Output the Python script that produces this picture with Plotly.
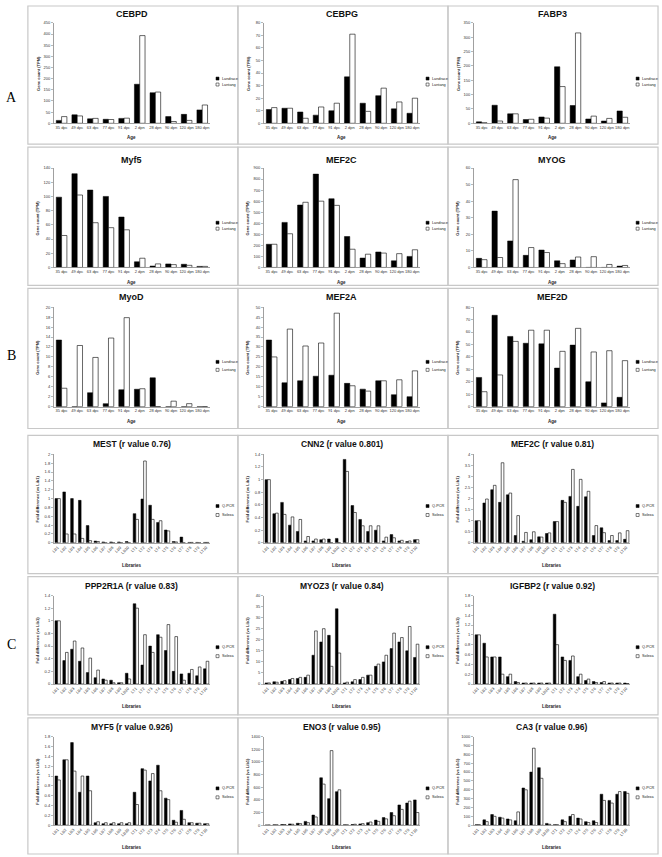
import plotly.graph_objects as go

W, H = 662, 857

ages = ["35 dpc", "49 dpc", "63 dpc", "77 dpc", "91 dpc", "2 dpn", "28 dpn", "90 dpn", "120 dpn", "180 dpn"]
libs = ["LB1", "LB2", "LB3", "LB4", "LB5", "LB6", "LB7", "LB8", "LB9", "LB10",
        "LT1", "LT2", "LT3", "LT4", "LT5", "LT6", "LT7", "LT8", "LT9", "LT10"]

# Row A / B : Gene count (TPM)
cebpd_landrace = [13, 38, 20, 18, 22, 175, 137, 30, 40, 60]
cebpd_lantang = [30, 33, 22, 17, 23, 393, 140, 8, 13, 82]
cebpg_landrace = [11, 12, 9, 6.5, 10, 37, 16, 22, 11.5, 8]
cebpg_lantang = [12.5, 12, 4, 13, 16, 71, 9.5, 28, 17, 20]
fabp3_landrace = [5, 63, 33, 13, 22, 197, 62, 15, 8, 43]
fabp3_lantang = [2, 8, 33, 14, 18, 128, 315, 25, 17, 21]
myf5_landrace = [99, 132, 109, 100, 71, 8, 2, 5, 4.5, 1.5]
myf5_lantang = [45, 102, 63, 56, 53, 13, 5, 4, 3, 1.5]
mef2c_landrace = [210, 408, 565, 845, 622, 280, 85, 140, 60, 100]
mef2c_lantang = [210, 305, 590, 600, 562, 165, 120, 130, 125, 160]
myog_landrace = [5.5, 34, 16, 7.3, 10.5, 4, 4.5, 0, 0, 0.8]
myog_lantang = [4.7, 6, 53, 12, 9, 2.3, 6.3, 6.5, 1.8, 1.2]
myod_landrace = [13.4, 0, 2.8, 0.6, 3.4, 3.5, 5.8, 0, 0, 0]
myod_lantang = [3.7, 12.3, 9.9, 13.8, 17.9, 3.6, 0, 1.1, 0.6, 0]
mef2a_landrace = [33.5, 12, 13, 15.3, 15.8, 11.7, 8.8, 13, 6, 5]
mef2a_lantang = [25, 39, 30.5, 32, 47, 10.5, 7.8, 13, 13.5, 18]
mef2d_landrace = [23.5, 73.5, 56.5, 51, 50.5, 31, 49.5, 20, 3, 7.5]
mef2d_lantang = [12, 25.5, 52.5, 61.5, 61.5, 44.5, 63, 44, 45, 37]

# Row C : fold difference
mest_qpcr = [1.0, 1.15, 1.0, 0.96, 0.39, 0.04, 0.02, 0.02, 0.02, 0.03, 0.66, 0.99, 0.85, 0.46, 0.29, 0.03, 0.13, 0.01, 0.01, 0.01]
mest_solexa = [1.0, 0.2, 0.2, 0.1, 0.05, 0.03, 0.0, 0.0, 0.0, 0.0, 0.53, 1.85, 0.53, 0.5, 0.27, 0.02, 0.0, 0.01, 0.0, 0.01]
cnn2_qpcr = [1.0, 0.46, 0.64, 0.28, 0.18, 0.03, 0.03, 0.05, 0.06, 0.07, 1.32, 0.59, 0.37, 0.18, 0.2, 0.03, 0.13, 0.03, 0.02, 0.05]
cnn2_solexa = [1.0, 0.47, 0.45, 0.41, 0.37, 0.1, 0.06, 0.06, 0.0, 0.0, 1.13, 0.48, 0.27, 0.27, 0.27, 0.09, 0.08, 0.04, 0.03, 0.05]
mef2c_qpcr = [1.0, 1.8, 2.4, 1.83, 2.17, 0.33, 0.07, 0.14, 0.27, 0.42, 0.96, 1.92, 2.1, 1.65, 2.08, 0.33, 0.68, 0.1, 0.1, 0.16]
mef2c_solexa = [1.0, 1.98, 2.6, 3.62, 2.25, 1.23, 0.47, 0.5, 0.26, 0.45, 0.96, 1.83, 3.32, 2.87, 2.33, 0.78, 0.46, 0.33, 0.45, 0.55]
ppp2r1a_qpcr = [1.0, 0.37, 0.55, 0.36, 0.18, 0.10, 0.08, 0.06, 0.02, 0.17, 1.27, 0.30, 0.60, 0.78, 0.53, 0.20, 0.16, 0.17, 0.13, 0.24]
ppp2r1a_solexa = [1.0, 0.50, 0.68, 0.57, 0.41, 0.22, 0.06, 0.02, 0.02, 0.08, 1.20, 0.78, 0.50, 0.74, 0.94, 0.75, 0.06, 0.23, 0.27, 0.36]
myoz3_qpcr = [0.5, 1.0, 1.2, 2.0, 2.5, 3.0, 13, 19, 22, 34, 0.5, 1.0, 2.0, 4.0, 8.0, 10, 16, 19, 15, 12]
myoz3_solexa = [0.5, 0.8, 1.5, 2.5, 3.0, 4.0, 24, 25, 8, 14, 0.8, 2.0, 3.0, 4.0, 9.0, 13, 23, 21, 26, 18]
igfbp2_qpcr = [1.0, 0.83, 0.55, 0.55, 0.15, 0.05, 0.02, 0.02, 0.02, 0.02, 1.42, 0.55, 0.48, 0.15, 0.07, 0.05, 0.03, 0.02, 0.02, 0.02]
igfbp2_solexa = [1.0, 0.55, 0.55, 0.20, 0.20, 0.03, 0.02, 0.02, 0.02, 0.02, 0.80, 0.48, 0.57, 0.20, 0.10, 0.03, 0.05, 0.02, 0.02, 0.01]
myf5c_qpcr = [1.0, 1.33, 1.68, 0.67, 1.0, 0.05, 0.03, 0.03, 0.03, 0.03, 0.67, 1.15, 0.90, 1.22, 0.55, 0.10, 0.30, 0.05, 0.04, 0.03]
myf5c_solexa = [0.92, 1.33, 1.10, 1.0, 0.70, 0.07, 0.05, 0.05, 0.05, 0.05, 0.42, 1.12, 1.05, 0.70, 0.52, 0.06, 0.12, 0.05, 0.04, 0.03]
eno3_qpcr = [2, 5, 10, 20, 30, 60, 160, 750, 420, 530, 5, 10, 20, 40, 80, 120, 200, 320, 350, 400]
eno3_solexa = [2, 5, 10, 15, 25, 40, 130, 650, 1180, 560, 5, 15, 25, 50, 60, 100, 150, 250, 380, 200]
ca3_qpcr = [5, 60, 120, 90, 70, 50, 420, 600, 650, 20, 5, 60, 100, 80, 40, 50, 350, 280, 350, 380]
ca3_solexa = [5, 40, 100, 80, 60, 150, 400, 870, 530, 10, 5, 40, 120, 70, 30, 30, 280, 250, 380, 360]

panels = [
    ("CEBPD", ages, cebpd_landrace, cebpd_lantang, 450, 50),
    ("CEBPG", ages, cebpg_landrace, cebpg_lantang, 80, 10),
    ("FABP3", ages, fabp3_landrace, fabp3_lantang, 350, 50),
    ("Myf5", ages, myf5_landrace, myf5_lantang, 140, 20),
    ("MEF2C", ages, mef2c_landrace, mef2c_lantang, 900, 100),
    ("MYOG", ages, myog_landrace, myog_lantang, 60, 10),
    ("MyoD", ages, myod_landrace, myod_lantang, 20, 2),
    ("MEF2A", ages, mef2a_landrace, mef2a_lantang, 50, 5),
    ("MEF2D", ages, mef2d_landrace, mef2d_lantang, 80, 10),
    ("MEST (r value 0.76)", libs, mest_qpcr, mest_solexa, 2, 0.2),
    ("CNN2 (r value 0.801)", libs, cnn2_qpcr, cnn2_solexa, 1.4, 0.2),
    ("MEF2C (r value 0.81)", libs, mef2c_qpcr, mef2c_solexa, 4, 0.5),
    ("PPP2R1A (r value 0.83)", libs, ppp2r1a_qpcr, ppp2r1a_solexa, 1.4, 0.2),
    ("MYOZ3 (r value 0.84)", libs, myoz3_qpcr, myoz3_solexa, 40, 5),
    ("IGFBP2 (r value 0.92)", libs, igfbp2_qpcr, igfbp2_solexa, 1.8, 0.2),
    ("MYF5 (r value 0.926)", libs, myf5c_qpcr, myf5c_solexa, 1.8, 0.2),
    ("ENO3 (r value 0.95)", libs, eno3_qpcr, eno3_solexa, 1400, 200),
    ("CA3 (r value 0.96)", libs, ca3_qpcr, ca3_solexa, 1000, 100),
]

# layout geometry (pixels)
col_left = [25, 236, 447]
PW = 211
# top, bottom, title_y, plot_top, zero_y, xtitle_y, legend_y1, legend_y2
rows = [
    (3, 142, 11, 20, 121, 135, 76, 82),
    (145, 284, 158, 166, 266, 281, 221, 227),
    (287, 428, 296, 306, 406, 421, 361, 369),
    (435, 574, 444, 454, 543, 566, 506, 515),
    (577, 716, 586, 596, 685, 708, 648, 657),
    (719, 856, 728, 738, 827, 849, 790, 799),
]

FONT = "Liberation Sans"
fig = go.Figure()
layout = dict(width=W, height=H, margin=dict(l=0, r=0, t=0, b=0),
              paper_bgcolor="white", plot_bgcolor="white",
              barmode="group", bargap=0.32, bargroupgap=0.0,
              showlegend=False, font=dict(family=FONT, color="#222"))
shapes = []
annotations = []


def px(x):
    return x / W


def py(y):
    return 1 - y / H


for i, (title, cats, v1, v2, ymax, dt) in enumerate(panels):
    k = i + 1
    r, c = divmod(i, 3)
    L = col_left[c]
    top, bot, ty, ptop, zero, xty, ly1, ly2 = rows[r]
    isC = r >= 3
    x0, x1 = L + 26, L + 183
    sfx = "" if k == 1 else str(k)
    fig.add_trace(go.Bar(x=cats, y=v1, xaxis="x" + sfx, yaxis="y" + sfx,
                         marker=dict(color="black", line=dict(color="black", width=0.5))))
    fig.add_trace(go.Bar(x=cats, y=v2, xaxis="x" + sfx, yaxis="y" + sfx,
                         marker=dict(color="white", line=dict(color="black", width=0.6))))
    layout["xaxis" + sfx] = dict(domain=[px(x0), px(x1)], anchor="y" + sfx, type="category",
                                 tickmode="array", tickvals=cats, ticktext=cats,
                                 tickfont=dict(size=4, color="#333"), tickangle=-45 if isC else 0,
                                 showline=True, linecolor="#888", linewidth=0.8, ticks="",
                                 showgrid=False, zeroline=False, fixedrange=True)
    layout["yaxis" + sfx] = dict(domain=[py(zero), py(ptop)], anchor="x" + sfx,
                                 range=[0, ymax], tick0=0, dtick=dt,
                                 tickfont=dict(size=4, color="#333"),
                                 showline=True, linecolor="#888", linewidth=0.8,
                                 ticks="outside", ticklen=2, tickcolor="#888", tickwidth=0.6,
                                 showgrid=False, zeroline=False, fixedrange=True)
    # panel frame
    shapes.append(dict(type="rect", xref="paper", yref="paper",
                       x0=px(L), x1=px(L + PW), y0=py(bot), y1=py(top),
                       line=dict(color="#c8c8c8", width=1.2), fillcolor="rgba(0,0,0,0)"))
    # title
    annotations.append(dict(x=px((x0 + x1) / 2), y=py(ty), xref="paper", yref="paper",
                            text="<b>%s</b>" % title, showarrow=False,
                            font=dict(size=8.5 if isC else 9, family=FONT, color="#111"),
                            xanchor="center", yanchor="middle"))
    # axis titles
    annotations.append(dict(x=px((x0 + x1) / 2), y=py(xty), xref="paper", yref="paper",
                            text="<b>%s</b>" % ("Libraries" if isC else "Age"), showarrow=False,
                            font=dict(size=4.5, family=FONT, color="#222"),
                            xanchor="center", yanchor="middle"))
    annotations.append(dict(x=px(L + 10), y=py((ptop + zero) / 2), xref="paper", yref="paper",
                            text="<b>%s</b>" % ("Fold difference (vs Lib1)" if isC else "Gene count (TPM)"),
                            showarrow=False, textangle=-90,
                            font=dict(size=4, family=FONT, color="#222"),
                            xanchor="center", yanchor="middle"))
    # legend
    names = ("Q-PCR", "Solexa") if isC else ("Landrace", "Lantang")
    for ly, fill, name in ((ly1, "black", names[0]), (ly2, "white", names[1])):
        shapes.append(dict(type="rect", xref="paper", yref="paper",
                           x0=px(L + 189), x1=px(L + 192), y0=py(ly + 1.5), y1=py(ly - 1.5),
                           line=dict(color="black", width=0.5), fillcolor=fill))
        annotations.append(dict(x=px(L + 193), y=py(ly), xref="paper", yref="paper",
                                text=name, showarrow=False,
                                font=dict(size=3.8, family=FONT, color="#222"),
                                xanchor="left", yanchor="middle"))

for letter, y in (("A", 95), ("B", 355), ("C", 645)):
    annotations.append(dict(x=px(9), y=py(y), xref="paper", yref="paper", text=letter,
                            showarrow=False, font=dict(size=14, family="Liberation Serif", color="black"),
                            xanchor="center", yanchor="middle"))

layout["shapes"] = shapes
layout["annotations"] = annotations
fig.update_layout(**layout)
fig.write_html("out.html", config=dict(displayModeBar=False, staticPlot=True),
               post_script="document.body.style.margin='0';document.body.style.overflow='hidden';")
